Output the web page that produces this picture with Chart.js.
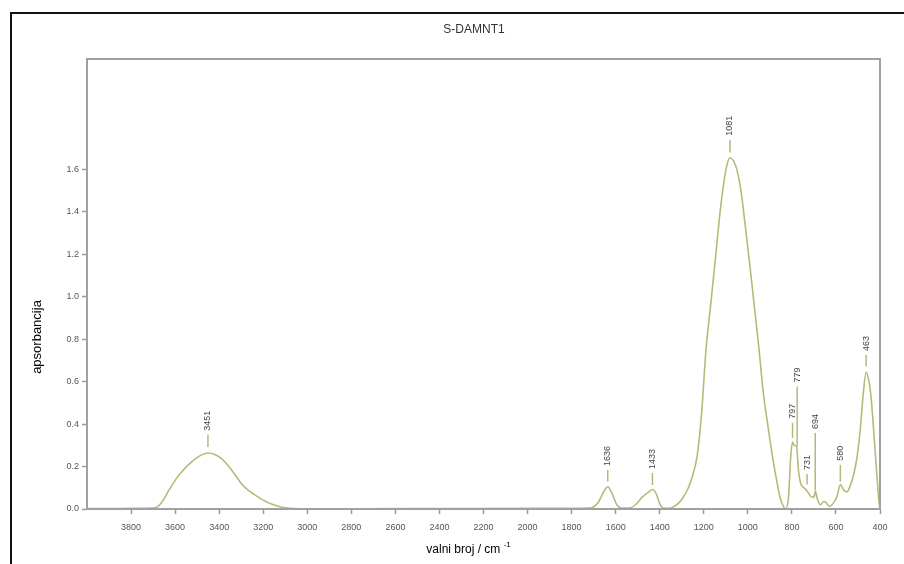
<!DOCTYPE html>
<html>
<head>
<meta charset="utf-8">
<title>S-DAMNT1</title>
<script src="https://cdn.jsdelivr.net/npm/chart.js@4.4.1/dist/chart.umd.min.js"></script>
<style>
  html, body { margin: 0; padding: 0; background: #fff; }
  canvas { display: block; }
</style>
</head>
<body>
<canvas id="myChart" width="904" height="564"></canvas>
<script>
/* globals Chart:false */

// spectrum (wavenumber in cm-1, absorbance)
const wavenumbers = [
  4000, 3900, 3800, 3700, 3680, 3655, 3630, 3600, 3570, 3540, 3510, 3480, 3451,
  3420, 3390, 3360, 3330, 3300, 3270, 3240, 3200, 3160, 3120, 3080, 3000, 2800,
  2400, 2000, 1800, 1720, 1680, 1655, 1636, 1615, 1595, 1575, 1540, 1510, 1480,
  1450, 1433, 1415, 1400, 1385, 1360, 1330, 1300, 1270, 1250, 1230, 1210, 1190,
  1170, 1150, 1130, 1110, 1095, 1081, 1065, 1050, 1030, 1010, 990, 970, 950,
  930, 910, 890, 870, 855, 840, 828, 815, 805, 797, 790, 779, 770, 760, 745,
  731, 715, 700, 694, 685, 670, 655, 645, 630, 610, 595, 580, 565, 550, 535,
  520, 505, 490, 478, 463, 450, 440, 428, 415, 405, 400
];
const absorbance = [
  0.002, 0.002, 0.003, 0.004, 0.01, 0.04, 0.085, 0.135, 0.175, 0.208, 0.235, 0.255, 0.264,
  0.257, 0.238, 0.205, 0.165, 0.12, 0.09, 0.068, 0.042, 0.022, 0.009, 0.003, 0.001, 0.001,
  0.002, 0.003, 0.003, 0.004, 0.03, 0.08, 0.105, 0.07, 0.02, 0.005, 0.004, 0.02, 0.055,
  0.08, 0.092, 0.07, 0.025, 0.005, 0.003, 0.015, 0.045, 0.1, 0.16, 0.25, 0.45, 0.75,
  0.95, 1.15, 1.36, 1.53, 1.62, 1.655, 1.64, 1.6, 1.49, 1.32, 1.14, 0.95, 0.76,
  0.55, 0.4, 0.26, 0.14, 0.06, 0.015, 0.0, 0.06, 0.25, 0.315, 0.3, 0.295, 0.18, 0.12, 0.1,
  0.085, 0.06, 0.055, 0.085, 0.05, 0.02, 0.035, 0.03, 0.012, 0.03, 0.06, 0.115, 0.09, 0.08, 0.11,
  0.16, 0.24, 0.37, 0.52, 0.645, 0.6, 0.52, 0.36, 0.17, 0.04, 0.0
];

// peak labels and the extent of their marker lines (absorbance units)
const peakLabels = ["3451", "1636", "1433", "1081", "797", "779", "731", "694", "580", "463"];
const peakPositions = [3451, 1636, 1433, 1081, 797, 776, 731, 694, 580, 463];
const markerTop = [0.35, 0.184, 0.17, 1.74, 0.406, 0.577, 0.165, 0.358, 0.208, 0.726];
const markerBottom = [0.292, 0.129, 0.113, 1.68, 0.335, 0.294, 0.115, 0.09, 0.129, 0.671];

const xTicks = [3800, 3600, 3400, 3200, 3000, 2800, 2600, 2400, 2200, 2000, 1800, 1600, 1400, 1200, 1000, 800, 600, 400];
const yTicks = [0, 0.2, 0.4, 0.6, 0.8, 1.0, 1.2, 1.4, 1.6];

const lineColor = "#b8b978";

// frame, titles and peak annotations
const decorations = {
  id: "decorations",
  afterDraw(chart) {
    const c = chart.ctx;
    const a = chart.chartArea;
    const xs = chart.scales.x;
    const ys = chart.scales.y;
    c.save();

    // outer black frame
    c.strokeStyle = "#111";
    c.lineWidth = 2;
    c.strokeRect(11, 13, 920, 600);

    // plot box
    c.strokeStyle = "#a0a0a0";
    c.lineWidth = 2;
    c.strokeRect(a.left, a.top, a.right - a.left, a.bottom - a.top);

    // title
    c.fillStyle = "#333";
    c.font = "12px 'Liberation Sans', Arial, sans-serif";
    c.textAlign = "center";
    c.textBaseline = "middle";
    c.fillText("S-DAMNT1", 474, 30);

    // axis titles
    c.fillStyle = "#000";
    c.font = "12px 'Liberation Sans', Arial, sans-serif";
    c.textAlign = "left";
    const main = "valni broj / cm ";
    const w = c.measureText(main).width;
    const x0 = 470 - (w + 10) / 2;
    c.fillText(main, x0, 550);
    c.font = "8px 'Liberation Sans', Arial, sans-serif";
    c.fillText("-1", x0 + w, 545);

    c.save();
    c.translate(37, 337);
    c.rotate(-Math.PI / 2);
    c.font = "13px 'Liberation Sans', Arial, sans-serif";
    c.textAlign = "center";
    c.fillText("apsorbancija", 0, 0);
    c.restore();

    // peak markers
    for (let i = 0; i < peakLabels.length; i++) {
      const px = xs.getPixelForValue(peakPositions[i]);
      const yTop = ys.getPixelForValue(markerTop[i]);
      const yBot = ys.getPixelForValue(markerBottom[i]);
      c.strokeStyle = lineColor;
      c.lineWidth = 1.5;
      c.beginPath();
      c.moveTo(px, yTop);
      c.lineTo(px, yBot);
      c.stroke();

      c.save();
      c.translate(px, yTop - 4);
      c.rotate(-Math.PI / 2);
      c.fillStyle = "#444";
      c.font = "9px 'Liberation Sans', Arial, sans-serif";
      c.textAlign = "left";
      c.textBaseline = "middle";
      c.fillText(peakLabels[i], 0, 0);
      c.restore();
    }
    c.restore();
  },
};

const ctx = document.getElementById("myChart");
// eslint-disable-next-line no-unused-vars
const myChart = new Chart(ctx, {
  type: "line",
  data: {
    datasets: [
      {
        data: wavenumbers.map((v, i) => ({ x: v, y: absorbance[i] })),
        borderColor: lineColor,
        borderWidth: 1.6,
        backgroundColor: "transparent",
        pointRadius: 0,
        cubicInterpolationMode: "monotone",
        clip: 3,
      },
    ],
  },
  options: {
    responsive: false,
    animation: false,
    devicePixelRatio: 1,
    layout: { padding: { top: 59, right: 24, left: 0, bottom: 0 } },
    plugins: {
      legend: { display: false },
      tooltip: { enabled: false },
    },
    scales: {
      x: {
        type: "linear",
        reverse: true,
        min: 400,
        max: 4000,
        afterBuildTicks: (s) => {
          s.ticks = xTicks.map((v) => ({ value: v }));
        },
        afterFit: (s) => {
          s.height = 55;
        },
        ticks: {
          autoSkip: false,
          maxRotation: 0,
          padding: 8,
          color: "#555",
          font: { size: 9, family: "'Liberation Sans', Arial, sans-serif" },
          callback: (v) => String(v),
        },
        grid: {
          drawOnChartArea: false,
          drawTicks: true,
          tickLength: 5,
          tickWidth: 1.5,
          color: "#999",
        },
        border: { color: "#a0a0a0", width: 2 },
      },
      y: {
        min: 0,
        max: 2.12,
        afterBuildTicks: (s) => {
          s.ticks = yTicks.map((v) => ({ value: v }));
        },
        afterFit: (s) => {
          s.width = 87;
        },
        ticks: {
          padding: 3,
          color: "#555",
          font: { size: 9, family: "'Liberation Sans', Arial, sans-serif" },
          callback: (v) => Number(v).toFixed(1),
        },
        grid: {
          drawOnChartArea: false,
          drawTicks: true,
          tickLength: 5,
          tickWidth: 1.5,
          color: "#999",
        },
        border: { color: "#a0a0a0", width: 2 },
      },
    },
  },
  plugins: [decorations],
});
</script>
</body>
</html>
